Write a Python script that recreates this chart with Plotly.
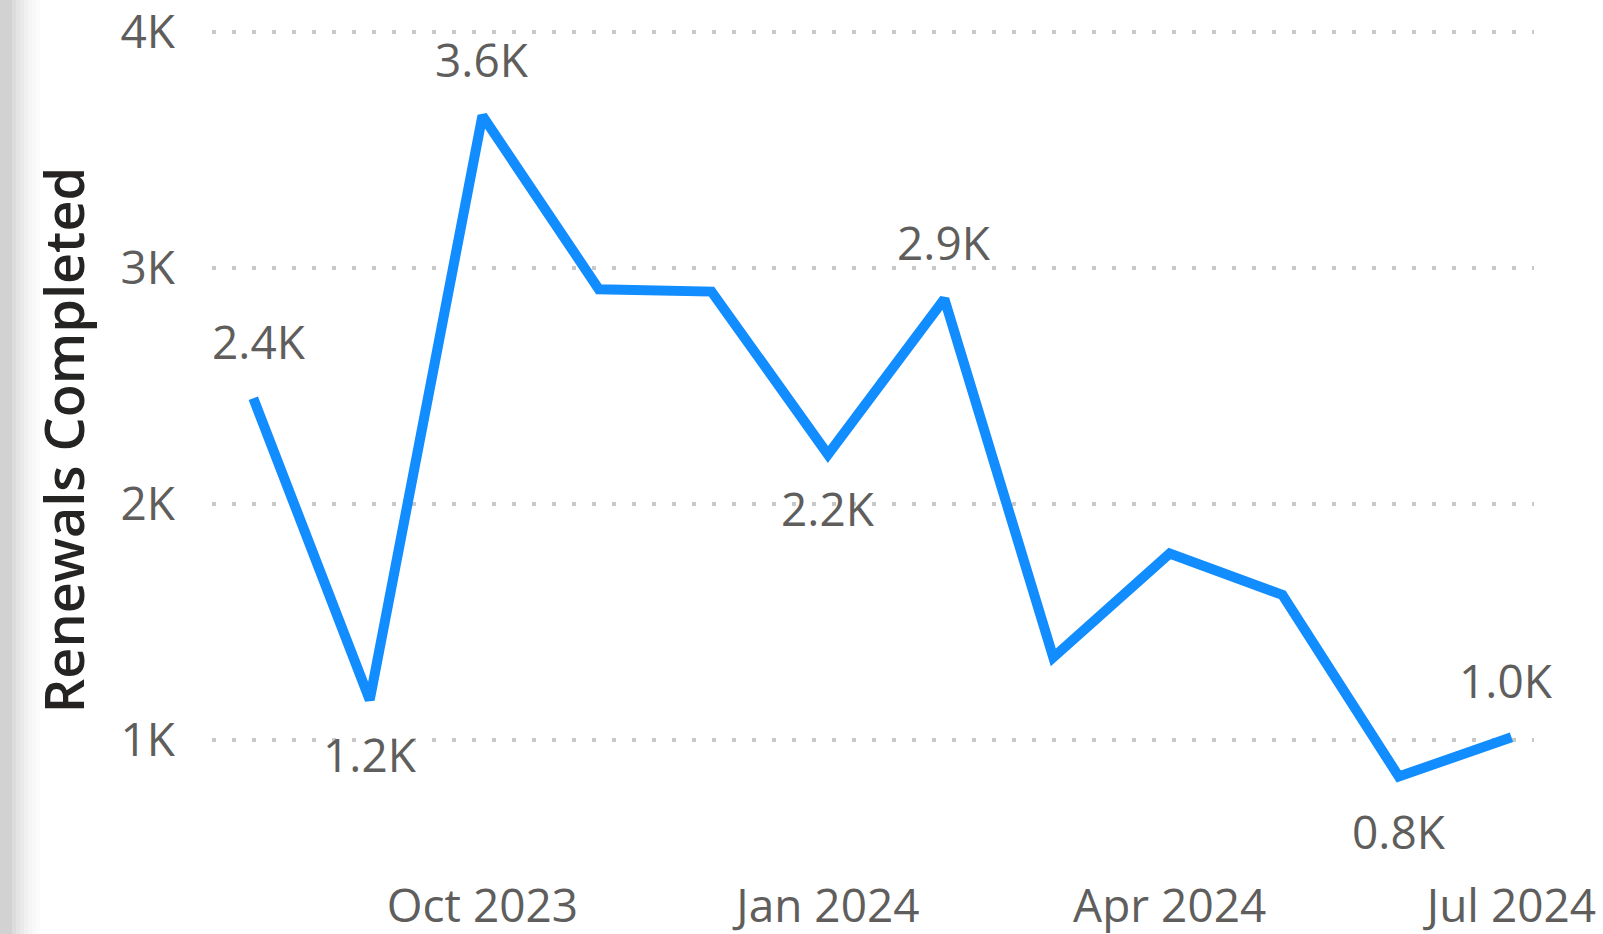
import plotly.graph_objects as go

# monthly renewals, Aug 2023 - Jul 2024
months = ['2023-08-01', '2023-09-01', '2023-10-01', '2023-11-01', '2023-12-01', '2024-01-01',
          '2024-02-01', '2024-03-01', '2024-04-01', '2024-05-01', '2024-06-01', '2024-07-01']
renewals = [2448, 1170, 3645, 2910, 2900, 2210, 2869, 1350, 1790, 1615, 845, 1012]
point_labels = ['2.4K', '1.2K', '3.6K', '', '', '2.2K', '2.9K', '', '', '', '0.8K', '1.0K']
label_side = [1, -1, 1, 0, 0, -1, 1, 0, 0, 0, -1, 1]  # 1 = above, -1 = below

x_tickvals = ['2023-10-01', '2024-01-01', '2024-04-01', '2024-07-01']
x_ticktext = ['Oct 2023', 'Jan 2024', 'Apr 2024', 'Jul 2024']
y_tickvals = [1000, 2000, 3000, 4000]
y_ticktext = ['1K', '2K', '3K', '4K']

W, H = 1603, 934
ML, MR, MT, MB = 212, 69, 0, 54
grey = '#605E5C'
font = 'Open Sans'

fig = go.Figure()
fig.add_trace(go.Scatter(
    x=months, y=renewals, mode='lines',
    line=dict(color='#118DFF', width=10),
    hoverinfo='skip',
))

annotations = []
last = len(months) - 1
for i, (m, v, t, s) in enumerate(zip(months, renewals, point_labels, label_side)):
    if not t:
        continue
    # end labels are nudged inwards a little
    xs = 6 if i == 0 else (-5 if i == last else 0)
    annotations.append(dict(
        x=m, y=v, text=t, showarrow=False,
        yshift=57 if s > 0 else -54, xshift=xs,
        font=dict(family=font, size=46, color=grey),
    ))

# grey shaded strip at the far left edge
pw = W - ML - MR
shapes = []
strip = [(0, 12, '#d2d2d2')] + [(12 + i * 4, 16 + i * 4, c) for i, c in enumerate(
    ['#dcdcdc', '#e4e4e4', '#eaeaea', '#f0f0f0', '#f5f5f5', '#f9f9f9', '#fcfcfc'])]
for x0, x1, c in strip:
    shapes.append(dict(type='rect', xref='paper', yref='paper',
                       x0=(x0 - ML) / pw, x1=(x1 - ML) / pw, y0=-1, y1=2,
                       fillcolor=c, line=dict(width=0), layer='below'))

fig.update_layout(
    width=W, height=H,
    margin=dict(l=ML, r=MR, t=MT, b=MB),
    plot_bgcolor='white', paper_bgcolor='white',
    showlegend=False,
    annotations=annotations,
    shapes=shapes,
    xaxis=dict(
        type='date',
        range=['2023-07-21', '2024-07-07'],
        tickvals=x_tickvals, ticktext=x_ticktext,
        tickfont=dict(family=font, size=46, color=grey),
        showgrid=False, zeroline=False, showline=False,
        ticklabelstandoff=-5, automargin=False, ticklabeloverflow='allow',
    ),
    yaxis=dict(
        range=[406.8, 4135.6],
        tickvals=y_tickvals, ticktext=y_ticktext,
        tickfont=dict(family=font, size=46, color=grey),
        showgrid=True, gridcolor='#c8c8c8', gridwidth=4, griddash='4px,16px',
        zeroline=False, showline=False,
        ticklabelstandoff=36, automargin=False, ticklabeloverflow='allow',
        title=dict(text='Renewals Completed', standoff=18,
                   font=dict(family=font, size=54, color='#252423', weight=600)),
    ),
)

fig.write_html('out.html', config={'displayModeBar': False},
               post_script="document.body.style.margin='0';")
